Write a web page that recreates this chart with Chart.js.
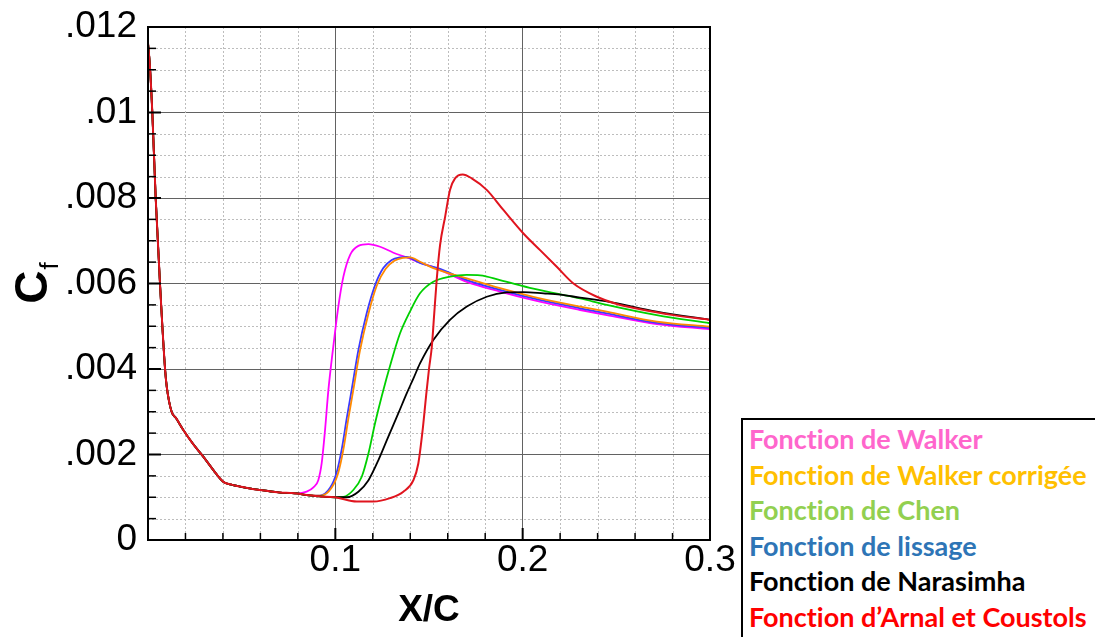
<!DOCTYPE html>
<html>
<head>
<meta charset="utf-8">
<script src="https://cdn.jsdelivr.net/npm/chart.js@4.4.1/dist/chart.umd.min.js"></script>
<style>
  body { margin: 0; background: #fff; }
  #wrap { position: relative; width: 1095px; height: 637px; overflow: hidden; }
  #legende {
    position: absolute; left: 741px; top: 418px; width: 400px; height: 260px;
    box-sizing: border-box; border: 2px solid #000; background: #fff;
    padding: 1px 0 0 6px; font: 700 27px Lato, sans-serif; line-height: 35.6px;
    white-space: nowrap; font-variant-ligatures: none;
  }
</style>
</head>
<body>
<div id="wrap">
  <canvas id="cf" width="1095" height="637"></canvas>
  <div id="legende"></div>
</div>
<script>
// partie laminaire commune a toutes les courbes
var laminarX = [0, 0.0010, 0.0023, 0.0041, 0.0064, 0.0091, 0.0100, 0.0126, 0.0150, 0.0189, 0.0240, 0.0295, 0.0350, 0.0402, 0.0450, 0.0491, 0.0550, 0.0598, 0.0650, 0.0705, 0.0760, 0.0794];
var laminarY = [0.01163, 0.01110, 0.0100, 0.0080, 0.0060, 0.0040, 0.00359, 0.0030, 0.00285, 0.00257, 0.00225, 0.00195, 0.00163, 0.00136, 0.00129, 0.00125, 0.00120, 0.00117, 0.00114, 0.00111, 0.00110, 0.00109];

var walkerX = [0.0847, 0.0883, 0.0909, 0.0927, 0.0945, 0.0963, 0.0989, 0.1016, 0.1043, 0.1079, 0.1123, 0.1176, 0.1239, 0.1310, 0.1381, 0.1452, 0.1559, 0.1702, 0.1879, 0.2057, 0.2307, 0.2449, 0.2716, 0.3000];
var walkerY = [0.00113, 0.00123, 0.00140, 0.00179, 0.00257, 0.00351, 0.00452, 0.00546, 0.00616, 0.00667, 0.00688, 0.00692, 0.00686, 0.00672, 0.00661, 0.00649, 0.00632, 0.00604, 0.00581, 0.00561, 0.00538, 0.00526, 0.00505, 0.00493];

var corrigeeX = [0.0847, 0.0925, 0.0980, 0.1016, 0.1043, 0.1070, 0.1096, 0.1132, 0.1177, 0.1222, 0.1268, 0.1315, 0.1360, 0.1399, 0.1452, 0.1523, 0.1702, 0.1879, 0.2057, 0.2307, 0.2449, 0.2716, 0.3000];
var corrigeeY = [0.00105, 0.00104, 0.00122, 0.00158, 0.00212, 0.00285, 0.00351, 0.00444, 0.00530, 0.00596, 0.00634, 0.00653, 0.00660, 0.00661, 0.00651, 0.00636, 0.00612, 0.00589, 0.00569, 0.00546, 0.00534, 0.00511, 0.00499];

var chenX = [0.0847, 0.0920, 0.0998, 0.1043, 0.1096, 0.1141, 0.1177, 0.1212, 0.1248, 0.1301, 0.1345, 0.1399, 0.1452, 0.1523, 0.1612, 0.1702, 0.1773, 0.1879, 0.2057, 0.2307, 0.2449, 0.2716, 0.3000];
var chenY = [0.00105, 0.00102, 0.00100, 0.00101, 0.00117, 0.00148, 0.00203, 0.00273, 0.00337, 0.00421, 0.00483, 0.00535, 0.00577, 0.00604, 0.00616, 0.00620, 0.00619, 0.00608, 0.00588, 0.00565, 0.00550, 0.00526, 0.00507];

var lissageX = [0.0847, 0.0918, 0.0972, 0.1007, 0.1034, 0.1061, 0.1087, 0.1123, 0.1167, 0.1212, 0.1256, 0.1301, 0.1345, 0.1380, 0.1452, 0.1559, 0.1702, 0.1879, 0.2057, 0.2307, 0.2449, 0.2716, 0.3000];
var lissageY = [0.00105, 0.00104, 0.00122, 0.00158, 0.00212, 0.00285, 0.00351, 0.00444, 0.00530, 0.00596, 0.00636, 0.00655, 0.00661, 0.00662, 0.00648, 0.00634, 0.00608, 0.00585, 0.00565, 0.00542, 0.00530, 0.00508, 0.00496];

var narasimhaX = [0.0847, 0.0920, 0.0998, 0.1061, 0.1123, 0.1177, 0.1230, 0.1283, 0.1336, 0.1381, 0.1417, 0.1452, 0.1523, 0.1612, 0.1702, 0.1808, 0.1915, 0.2004, 0.2111, 0.2200, 0.2307, 0.2449, 0.2716, 0.3000];
var narasimhaY = [0.00105, 0.00102, 0.00100, 0.00100, 0.00113, 0.00140, 0.00187, 0.00242, 0.00296, 0.00343, 0.00378, 0.00413, 0.00468, 0.00515, 0.00546, 0.00569, 0.00579, 0.00580, 0.00577, 0.00574, 0.00567, 0.00558, 0.00534, 0.00515];

var arnalX = [0.0847, 0.0920, 0.0998, 0.1114, 0.1203, 0.1292, 0.1363, 0.1417, 0.1443, 0.1466, 0.1484, 0.1500, 0.1515, 0.1528, 0.1541, 0.1559, 0.1586, 0.1612, 0.1639, 0.1680, 0.1728, 0.1808, 0.1897, 0.2004, 0.2093, 0.2182, 0.2271, 0.2396, 0.2502, 0.2627, 0.2805, 0.3000];
var arnalY = [0.00105, 0.00102, 0.00100, 0.00090, 0.00090, 0.00098, 0.00113, 0.00140, 0.00179, 0.00257, 0.00335, 0.00400, 0.00452, 0.00530, 0.00608, 0.00690, 0.00756, 0.00819, 0.00846, 0.00855, 0.00846, 0.00819, 0.00772, 0.00717, 0.00678, 0.00639, 0.00600, 0.00569, 0.00552, 0.00540, 0.00526, 0.00515];

var seriesNames = ["Fonction de Walker", "Fonction de Walker corrigée", "Fonction de Chen", "Fonction de lissage", "Fonction de Narasimha", "Fonction d\u2019Arnal et Coustols"];
var seriesX = [walkerX, corrigeeX, chenX, lissageX, narasimhaX, arnalX];
var seriesY = [walkerY, corrigeeY, chenY, lissageY, narasimhaY, arnalY];
var lineColors = ["#FF00FF", "#FF8A00", "#00D000", "#3A3AFF", "#000000", "#E0141E"];
var legendColors = ["#FF66CC", "#FFC000", "#92D050", "#2E75B6", "#000000", "#FF0000"];
var drawOrder = [5, 3, 2, 4, 1, 0];

var majorX = 0.1, minorX = 0.02;
var majorY = 0.002, minorY = 0.0005;

function points(xs, ys) {
    var all = laminarX.concat(xs), vals = laminarY.concat(ys);
    return all.map(function (x, i) { return { x: x, y: vals[i] }; });
}

var datasets = seriesNames.map(function (name, i) {
    return {
        label: name,
        data: points(seriesX[i], seriesY[i]),
        borderColor: lineColors[i],
        borderWidth: i === 5 ? 2 : 1.8,
        order: drawOrder[i]
    };
});

// grille mineure pointillee, cadre et graduations interieures facon Tecplot
var tecplot = {
    id: 'tecplot',
    beforeDatasetsDraw: function (chart) {
        var ctx = chart.ctx, a = chart.chartArea, sx = chart.scales.x, sy = chart.scales.y;
        var nx = Math.round((sx.max - sx.min) / minorX), rx = Math.round(majorX / minorX);
        var ny = Math.round((sy.max - sy.min) / minorY), ry = Math.round(majorY / minorY);
        ctx.save();
        ctx.strokeStyle = '#bdbdbd';
        ctx.lineWidth = 1;
        ctx.setLineDash([2, 2]);
        for (var i = 1; i < nx; i++) {
            if (i % rx === 0) continue;
            var px = Math.round(sx.getPixelForValue(sx.min + i * minorX)) + 0.5;
            ctx.beginPath(); ctx.moveTo(px, a.top); ctx.lineTo(px, a.bottom); ctx.stroke();
        }
        for (var j = 1; j < ny; j++) {
            if (j % ry === 0) continue;
            var py = Math.round(sy.getPixelForValue(sy.min + j * minorY)) + 0.5;
            ctx.beginPath(); ctx.moveTo(a.left, py); ctx.lineTo(a.right, py); ctx.stroke();
        }
        ctx.restore();
    },
    afterDatasetsDraw: function (chart) {
        var ctx = chart.ctx, a = chart.chartArea, sx = chart.scales.x, sy = chart.scales.y;
        var nx = Math.round((sx.max - sx.min) / minorX), rx = Math.round(majorX / minorX);
        var ny = Math.round((sy.max - sy.min) / minorY), ry = Math.round(majorY / minorY);
        ctx.save();
        ctx.strokeStyle = '#000';
        for (var i = 1; i < nx; i++) {
            var px = sx.getPixelForValue(sx.min + i * minorX);
            ctx.lineWidth = i % rx === 0 ? 2 : 1.5;
            ctx.beginPath(); ctx.moveTo(px, a.bottom); ctx.lineTo(px, a.bottom - (i % rx === 0 ? 12 : 7)); ctx.stroke();
        }
        for (var j = 1; j < ny; j++) {
            var py = sy.getPixelForValue(sy.min + j * minorY);
            ctx.lineWidth = j % ry === 0 ? 2 : 1.5;
            ctx.beginPath(); ctx.moveTo(a.left, py); ctx.lineTo(a.left + (j % ry === 0 ? 13 : 8), py); ctx.stroke();
        }
        ctx.lineWidth = 2;
        ctx.strokeRect(a.left, a.top, a.right - a.left, a.bottom - a.top);
        ctx.restore();
    },
    afterDraw: function (chart) {
        var ctx = chart.ctx, a = chart.chartArea;
        ctx.save();
        ctx.fillStyle = '#000';
        ctx.translate(47, (a.top + a.bottom) / 2);
        ctx.rotate(-Math.PI / 2);
        ctx.font = 'bold 46px "Liberation Sans"';
        var wC = ctx.measureText('C').width;
        ctx.font = '26px "Liberation Sans"';
        var wf = ctx.measureText('f').width;
        var u = -(wC + wf) / 2;
        ctx.font = 'bold 46px "Liberation Sans"';
        ctx.fillText('C', u, 0);
        ctx.font = '26px "Liberation Sans"';
        ctx.fillText('f', u + wC + 1, 11);
        ctx.restore();
    }
};

function yLabel(v) {
    if (v === 0) return '0';
    return String(+v.toFixed(4)).replace(/^0\./, '.');
}

new Chart(document.getElementById('cf'), {
    type: 'line',
    data: { datasets: datasets },
    options: {
        responsive: false,
        animation: false,
        layout: { padding: { left: 0, top: 27, right: 385, bottom: 0 } },
        plugins: { legend: { display: false }, tooltip: { enabled: false } },
        elements: {
            point: { radius: 0 },
            line: { cubicInterpolationMode: 'monotone', fill: false }
        },
        scales: {
            x: {
                type: 'linear', min: 0, max: 0.3,
                afterFit: function (s) { s.height = 97; },
                ticks: {
                    stepSize: majorX, padding: -1, color: '#000', maxRotation: 0, autoSkip: false,
                    font: { family: 'Liberation Sans', size: 37 },
                    callback: function (v) { return v === 0 ? '' : v.toFixed(1); }
                },
                grid: { color: '#626262', lineWidth: 1, drawTicks: false },
                border: { display: false },
                title: {
                    display: true, text: 'X/C', color: '#000',
                    font: { family: 'Liberation Sans', size: 37, weight: 'bold' },
                    padding: { top: 0, bottom: 4 }
                }
            },
            y: {
                type: 'linear', min: 0, max: 0.012,
                afterFit: function (s) { s.width = 148; s.paddingTop = 0; s.paddingBottom = 0; },
                ticks: {
                    stepSize: majorY, padding: 11, color: '#000',
                    font: { family: 'Liberation Sans', size: 37 },
                    callback: yLabel
                },
                grid: { color: '#626262', lineWidth: 1, drawTicks: false },
                border: { display: false }
            }
        }
    },
    plugins: [tecplot]
});

var legende = document.getElementById('legende');
seriesNames.forEach(function (name, i) {
    var d = document.createElement('div');
    d.textContent = name;
    d.style.color = legendColors[i];
    legende.appendChild(d);
});
</script>
</body>
</html>
